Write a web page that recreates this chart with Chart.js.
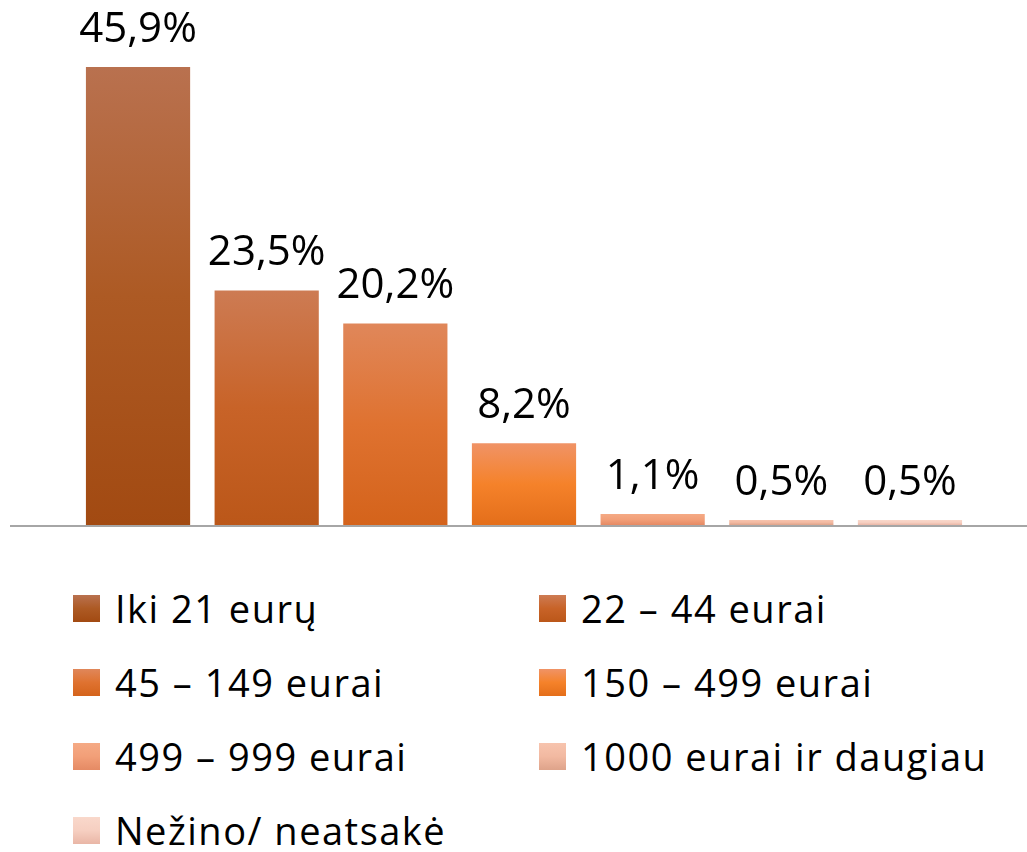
<!DOCTYPE html>
<html>
<head>
<meta charset="utf-8">
<script src="https://cdn.jsdelivr.net/npm/chart.js@4/dist/chart.umd.min.js"></script>
<style>
  html, body { margin: 0; padding: 0; background: #fff; }
  body { width: 1027px; height: 852px; position: relative; overflow: hidden; font-family: "Open Sans", sans-serif; }
  #wrap { position: absolute; left: 0; top: 0; width: 1027px; height: 540px; }
  #legend { position: absolute; left: 73px; top: 571px; display: grid; grid-template-columns: 466px 466px; grid-auto-rows: 74px; }
  .item { display: flex; align-items: center; font-size: 38px; letter-spacing: 1.5px; color: #000; white-space: nowrap; }
  .sw { width: 27px; height: 27px; margin-right: 15px; flex: none; }
</style>
</head>
<body>
<div id="wrap"><canvas id="chart"></canvas></div>
<div id="legend"></div>
<script>
const categories = ['Iki 21 eurų', '22 – 44 eurai', '45 – 149 eurai', '150 – 499 eurai', '499 – 999 eurai', '1000 eurai ir daugiau', 'Nežino/ neatsakė'];
const values = [45.9, 23.5, 20.2, 8.2, 1.1, 0.5, 0.5];
const valueLabels = ['45,9%', '23,5%', '20,2%', '8,2%', '1,1%', '0,5%', '0,5%'];
// gradient stops: top, middle, bottom
const colorsTop = ['#b9714f', '#cd7b53', '#e0875a', '#f09366', '#f5aa85', '#f7c4ae', '#f9d8cb'];
const colorsMid = ['#ad5a24', '#c86328', '#df7230', '#f5822a', '#f29f78', '#f2b9a1', '#f6cfc1'];
const colorsBottom = ['#a24a12', '#bb5719', '#d4631b', '#e46e1a', '#e58a64', '#dea38a', '#e9b6a6'];

function barGradient(ctx) {
  const chart = ctx.chart;
  const i = ctx.dataIndex;
  if (!chart.chartArea || !chart.scales.y) return colorsMid[i];
  const y = chart.scales.y;
  const top = y.getPixelForValue(values[i]);
  const bottom = y.getPixelForValue(0);
  const g = chart.ctx.createLinearGradient(0, top, 0, Math.max(bottom, top + 1));
  g.addColorStop(0, colorsTop[i]);
  g.addColorStop(0.5, colorsMid[i]);
  g.addColorStop(1, colorsBottom[i]);
  return g;
}

// base line across the whole width
const baseLine = {
  id: 'baseLine',
  afterDatasetsDraw(chart) {
    const c = chart.ctx;
    const y0 = chart.scales.y.getPixelForValue(0);
    c.save();
    c.fillStyle = '#a6a6a6';
    c.fillRect(10, y0, chart.width - 10, 2);
    c.restore();
  }
};

// value labels above bars
const valueText = {
  id: 'valueText',
  afterDatasetsDraw(chart) {
    const c = chart.ctx;
    const meta = chart.getDatasetMeta(0);
    c.save();
    c.font = '42px "Open Sans", sans-serif';
    c.fillStyle = '#000';
    c.textAlign = 'center';
    c.textBaseline = 'alphabetic';
    meta.data.forEach((bar, i) => {
      c.fillText(valueLabels[i], bar.x, bar.y - 25);
    });
    c.restore();
  }
};

const chart = new Chart(document.getElementById('chart'), {
  type: 'bar',
  data: {
    labels: categories,
    datasets: [{
      data: values,
      backgroundColor: barGradient,
      borderWidth: 0,
      barPercentage: 0.81,
      categoryPercentage: 1
    }]
  },
  options: {
    responsive: true,
    maintainAspectRatio: false,
    animation: false,
    layout: { padding: { left: 73.7, right: 52.7, top: 26, bottom: 15 } },
    scales: {
      x: { display: false },
      y: { display: false, min: 0, max: 50 }
    },
    plugins: {
      legend: { display: false },
      tooltip: { enabled: false }
    }
  },
  plugins: [baseLine, valueText]
});

// legend in two columns
const legend = document.getElementById('legend');
categories.forEach((name, i) => {
  const item = document.createElement('div');
  item.className = 'item';
  const sw = document.createElement('span');
  sw.className = 'sw';
  sw.style.background = 'linear-gradient(' + colorsTop[i] + ', ' + colorsMid[i] + ', ' + colorsBottom[i] + ')';
  const txt = document.createElement('span');
  txt.textContent = name;
  item.appendChild(sw);
  item.appendChild(txt);
  legend.appendChild(item);
});
</script>
</body>
</html>
